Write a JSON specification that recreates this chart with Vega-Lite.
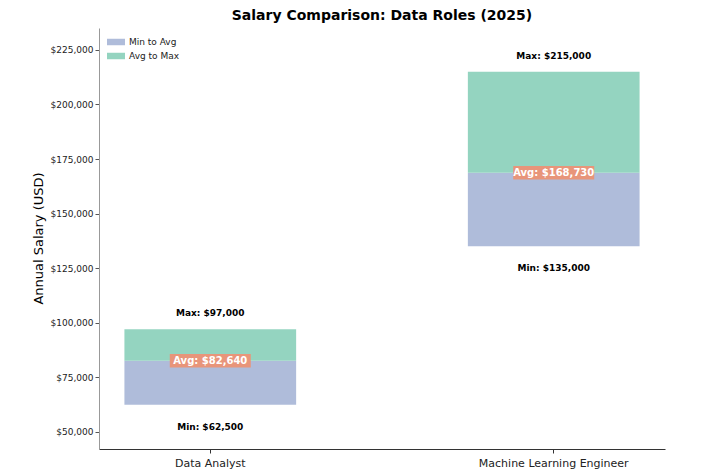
{
  "$schema": "https://vega.github.io/schema/vega-lite/v6.json",
  "description": "Salary comparison, min/avg/max by role",
  "autosize": {"type": "none"},
  "padding": {"left": 99, "top": 28, "right": 38, "bottom": 26},
  "width": 566,
  "height": 421,
  "title": {
    "text": "Salary Comparison: Data Roles (2025)",
    "fontSize": 14,
    "fontWeight": "bold",
    "color": "#000000",
    "offset": 5
  },
  "datasets": {
    "segments": [
      {"role": "Data Analyst", "segment": "Min to Avg", "low": 62500, "high": 82640},
      {"role": "Data Analyst", "segment": "Avg to Max", "low": 82640, "high": 97000},
      {"role": "Machine Learning Engineer", "segment": "Min to Avg", "low": 135000, "high": 168730},
      {"role": "Machine Learning Engineer", "segment": "Avg to Max", "low": 168730, "high": 215000}
    ],
    "roles": [
      {"role": "Data Analyst", "min": 62500, "avg": 82640, "max": 97000},
      {"role": "Machine Learning Engineer", "min": 135000, "avg": 168730, "max": 215000}
    ]
  },
  "encoding": {
    "x": {
      "field": "role",
      "type": "nominal",
      "title": null,
      "sort": ["Data Analyst", "Machine Learning Engineer"],
      "scale": {"paddingInner": 0.5, "paddingOuter": 0.074},
      "axis": {"labelAngle": 0, "labelFontSize": 11, "labelColor": "#222222", "domainColor": "#333333", "tickColor": "#333333", "tickSize": 4, "labelPadding": 4}
    }
  },
  "layer": [
    {
      "data": {"name": "segments"},
      "mark": {"type": "bar"},
      "encoding": {
        "y": {
          "field": "low",
          "type": "quantitative",
          "title": "Annual Salary (USD)",
          "scale": {"domain": [42200, 235000], "nice": false, "zero": false},
          "axis": {
            "values": [50000, 75000, 100000, 125000, 150000, 175000, 200000, 225000],
            "format": "$,.0f",
            "grid": false,
            "labelFontSize": 9,
            "labelColor": "#222222",
            "titleFontSize": 13,
            "titleFontWeight": "normal",
            "titleColor": "#000000",
            "titleX": -54,
            "titleY": 210,
            "domainColor": "#999999",
            "tickColor": "#555555",
            "tickSize": 4
          }
        },
        "y2": {"field": "high"},
        "color": {
          "field": "segment",
          "type": "nominal",
          "title": null,
          "scale": {"domain": ["Min to Avg", "Avg to Max"], "range": ["#afbcda", "#94d4c0"]},
          "legend": {
            "orient": "none",
            "legendX": 8,
            "legendY": 5,
            "labelFontSize": 9,
            "labelColor": "#222222",
            "symbolType": "M-1,-0.36H1V0.36H-1Z",
            "symbolSize": 324,
            "symbolStrokeWidth": 0,
            "rowPadding": 0
          }
        }
      }
    },
    {
      "data": {"name": "roles"},
      "transform": [{"calculate": "'Max: ' + format(datum.max, '$,')", "as": "maxLabel"}],
      "mark": {"type": "text", "fontSize": 9, "fontWeight": "bold", "color": "#000000", "baseline": "middle", "dy": -16},
      "encoding": {
        "y": {"field": "max", "type": "quantitative"},
        "text": {"field": "maxLabel"}
      }
    },
    {
      "data": {"name": "roles"},
      "transform": [{"calculate": "'Min: ' + format(datum.min, '$,')", "as": "minLabel"}],
      "mark": {"type": "text", "fontSize": 9, "fontWeight": "bold", "color": "#000000", "baseline": "middle", "dy": 22},
      "encoding": {
        "y": {"field": "min", "type": "quantitative"},
        "text": {"field": "minLabel"}
      }
    },
    {
      "data": {"name": "roles"},
      "mark": {"type": "point", "shape": "M-1,-0.165H1V0.165H-1Z", "filled": true, "color": "#e8957a", "opacity": 1, "size": 6561},
      "encoding": {
        "y": {"field": "avg", "type": "quantitative"}
      }
    },
    {
      "data": {"name": "roles"},
      "transform": [{"calculate": "'Avg: ' + format(datum.avg, '$,')", "as": "avgLabel"}],
      "mark": {"type": "text", "fontSize": 10, "fontWeight": "bold", "color": "#ffffff", "baseline": "middle"},
      "encoding": {
        "y": {"field": "avg", "type": "quantitative"},
        "text": {"field": "avgLabel"}
      }
    }
  ],
  "config": {
    "font": "DejaVu Sans",
    "view": {"stroke": null},
    "axisY": {"domain": true},
    "axisX": {"grid": false}
  }
}
